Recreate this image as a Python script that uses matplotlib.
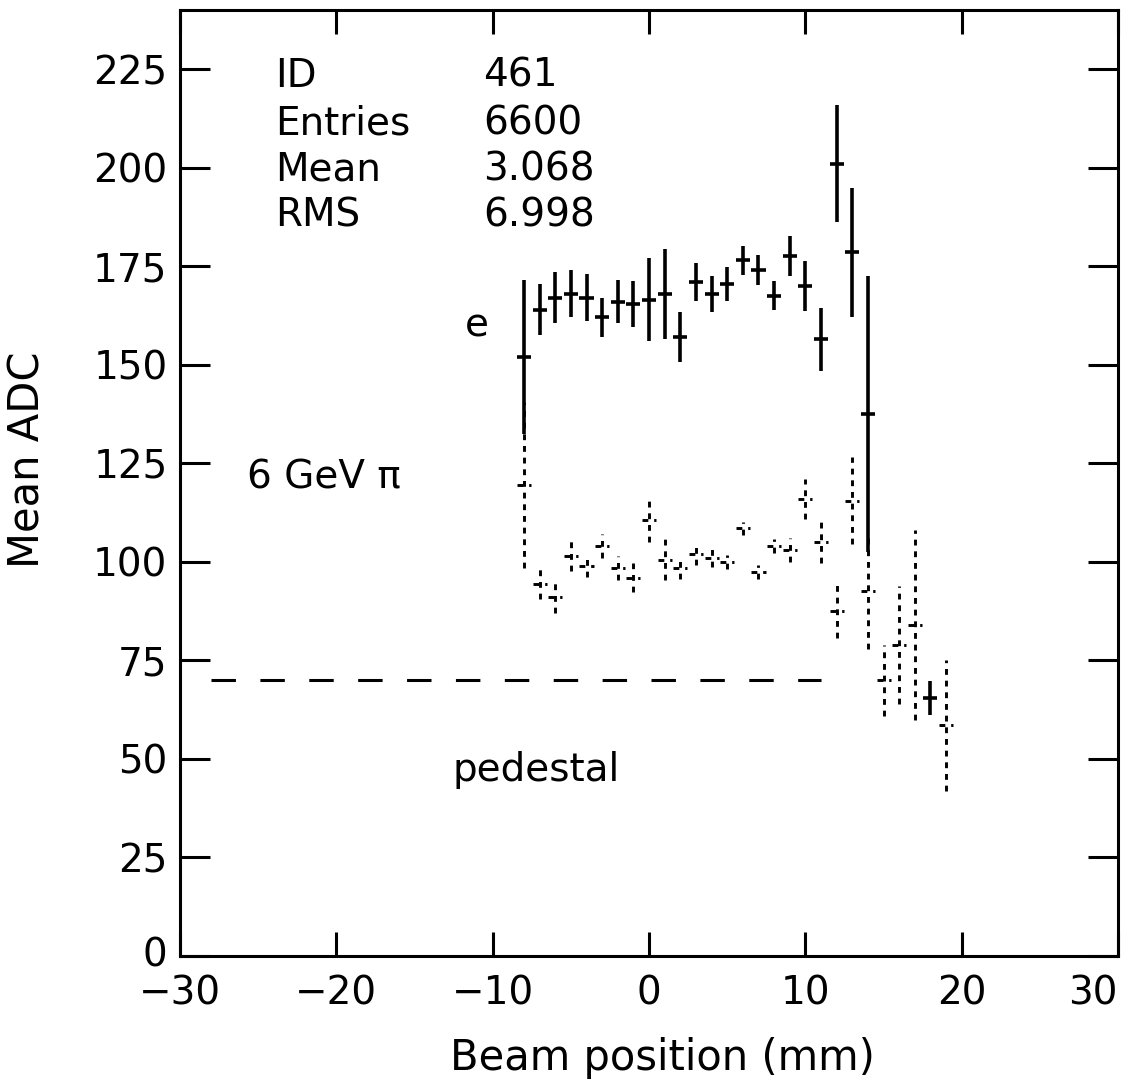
from __future__ import annotations

import matplotlib

matplotlib.use("Agg")
import matplotlib.pyplot as plt
import matplotlib.transforms as mtransforms

# electron points (solid crosses)
e_pos = [-8, -7, -6, -5, -4, -3, -2, -1, 0, 1, 2, 3, 4, 5, 6, 7, 8, 9, 10, 11, 12, 13, 14, 18]
e_adc = [152, 164, 167, 168, 167, 162, 166, 165.5, 166.5, 168, 157, 171, 168, 170.5,
         176.5, 174, 167.5, 177.5, 170, 156.5, 201, 178.5, 137.5, 65.5]
e_err = [19.5, 6.5, 6.5, 6, 6, 5, 5.4, 5.8, 10.5, 11.5, 6.3, 4.8, 4.5, 4.3,
         3.7, 3.8, 3.7, 5.1, 6.3, 8, 14.8, 16.3, 35, 4.3]

# 6 GeV pion points (dotted crosses)
pi_pos = [-8, -7, -6, -5, -4, -3, -2, -1, 0, 1, 2, 3, 4, 5, 6, 7, 8, 9, 10, 11,
          12, 13, 14, 15, 16, 17, 19]
pi_adc = [119.5, 94.5, 91, 101.5, 99, 104, 98.5, 96, 110.5, 100.5, 98.5, 102, 101, 100,
          108.5, 97.5, 104, 103, 116, 105, 87.5, 115.5, 92.5, 70, 79, 84, 58.5]
pi_err = [21, 3.8, 4, 3.8, 2.8, 3, 3, 3.7, 5.5, 5.2, 2.8, 2.8, 2.4, 1.7,
          1.6, 1.8, 1.7, 3, 5, 5.2, 6.7, 11, 14.7, 9, 15, 24, 16.7]

bin_half = 0.45

pedestal_x = [-28, 11]
pedestal_y = [70, 70]

stat_names = ["ID", "Entries", "Mean", "RMS"]
stat_values = ["461", "6600", "3.068", "6.998"]
stat_baselines = [220.5, 208.5, 196.8, 185.1]

x_ticks = [-30, -20, -10, 0, 10, 20, 30]
y_ticks = [0, 25, 50, 75, 100, 125, 150, 175, 200, 225]

_FS = 28
_LW = 2.2


def _draw_points(ax) -> None:
    ax.errorbar(e_pos, e_adc, yerr=e_err, xerr=bin_half, fmt="none",
                ecolor="black", elinewidth=2.6, capsize=0)
    eb = ax.errorbar(pi_pos, pi_adc, yerr=pi_err, xerr=bin_half, fmt="none",
                     ecolor="black", elinewidth=2.1, capsize=0)
    for lc in eb.lines[2]:
        lc.set_linestyle((0, (2, 2)))
    ax.plot(pedestal_x, pedestal_y, color="black", lw=_LW, linestyle=(0, (8, 8)))


def _draw_labels(ax) -> None:
    for name, val, yb in zip(stat_names, stat_values, stat_baselines):
        ax.text(-23.9, yb, name, fontsize=_FS, va="baseline", ha="left")
        ax.text(-10.6, yb, val, fontsize=_FS, va="baseline", ha="left")
    ax.text(-11.0, 157.2, "e", fontsize=_FS, va="baseline", ha="center")
    ax.text(-25.7, 118.7, "6 GeV \u03c0", fontsize=_FS, va="baseline", ha="left")
    ax.text(-7.2, 44.5, "pedestal", fontsize=_FS, va="baseline", ha="center")


def main() -> int:
    plt.rcParams["font.family"] = ["DejaVu Sans"]
    fig = plt.figure(figsize=(11.33, 10.9), dpi=100)
    ax = fig.add_axes([0.1589, 0.1229, 0.8279, 0.8679])

    _draw_points(ax)
    _draw_labels(ax)

    ax.set_xlim(-30, 30)
    ax.set_ylim(0, 240)
    ax.set_xticks(x_ticks)
    ax.set_yticks(y_ticks)
    ax.tick_params(axis="both", direction="in", top=True, right=True,
                   width=_LW, labelsize=_FS)
    ax.tick_params(axis="x", length=17, pad=13)
    ax.tick_params(axis="y", length=21.5, pad=9)
    for sp in ax.spines.values():
        sp.set_linewidth(_LW)
    # last x label sits inside the frame edge, as in the original
    ax.get_xticklabels()[-1].set_horizontalalignment("right")
    # lift the "0" a touch so it clears the "-30" below it
    zero = ax.get_yticklabels()[0]
    zero.set_transform(zero.get_transform()
                       + mtransforms.ScaledTranslation(0, 3 / 72, fig.dpi_scale_trans))

    ax.set_xlabel("Beam position (mm)", fontsize=30)
    ax.set_ylabel("Mean ADC", fontsize=30)
    ax.xaxis.set_label_coords(0.514, -0.086)
    ax.yaxis.set_label_coords(-0.14, 0.525)

    fig.savefig("out.png", dpi=100)
    return 0


if __name__ == "__main__":
    raise SystemExit(main())
